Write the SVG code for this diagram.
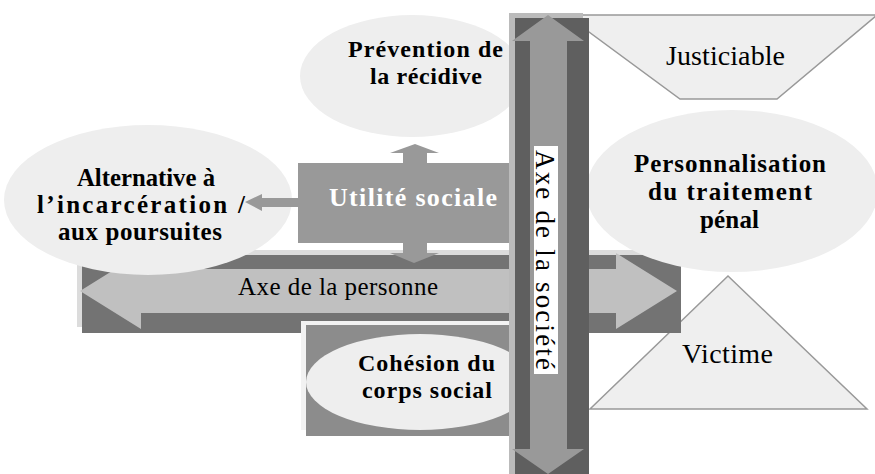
<svg xmlns="http://www.w3.org/2000/svg" width="875" height="474" viewBox="0 0 875 474">
<style>
.lbl{font-family:"Liberation Serif","Times New Roman",serif;font-weight:bold;font-size:25px;fill:#000}
.lbs{font-family:"Liberation Serif","Times New Roman",serif;font-weight:bold;font-size:24px;fill:#000}
.reg{font-family:"Liberation Serif","Times New Roman",serif;font-size:28px;fill:#000}
.ell{fill:#eeeeee}
.shape{fill:#efefef;stroke:#999999;stroke-width:1.5}
</style>
<rect width="875" height="474" fill="#ffffff"/>
<g id="victime">
<polygon class="shape" points="728,276 867,409 590,409"/>
<text class="reg" x="682" y="363" textLength="91" lengthAdjust="spacing">Victime</text>
</g>
<g id="justiciable">
<polygon class="shape" points="566,15 877,15 777,99 680,99"/>
<text class="reg" x="666" y="65" textLength="119" lengthAdjust="spacing">Justiciable</text>
</g>
<g id="axe-personne">
<rect x="77" y="250" width="600" height="77" fill="#dcdcdc"/>
<rect x="82" y="255" width="599" height="78" fill="#737373"/>
<polygon points="80,291 141,253 141,269 616,269 616,253 677,291 616,329 616,313 141,313 141,329" fill="#c0c0c0"/>
<text x="238" y="295" textLength="200" lengthAdjust="spacing" style="font-family:'Liberation Serif','Times New Roman',serif;font-size:25px;fill:#000">Axe de la personne</text>
</g>
<g id="alternative">
<ellipse class="ell" cx="148" cy="200" rx="144" ry="75"/>
<text class="lbl" x="77" y="186" textLength="138" lengthAdjust="spacingAndGlyphs">Alternative à</text>
<text class="lbl" x="37" y="213" textLength="208" lengthAdjust="spacing">l’incarcération /</text>
<text class="lbl" x="58" y="240" textLength="164" lengthAdjust="spacing">aux poursuites</text>
</g>
<g id="personnalisation">
<ellipse class="ell" cx="732" cy="191" rx="146" ry="81"/>
<text class="lbl" x="634" y="172" textLength="192" lengthAdjust="spacing">Personnalisation</text>
<text class="lbl" x="648" y="200" textLength="164" lengthAdjust="spacing">du traitement</text>
<text class="lbl" x="700" y="228" textLength="59" lengthAdjust="spacing">pénal</text>
</g>
<g id="prevention">
<ellipse class="ell" cx="412" cy="76" rx="112" ry="61"/>
<text class="lbs" x="348" y="57" textLength="155" lengthAdjust="spacing">Prévention de</text>
<text class="lbs" x="370" y="84" textLength="112" lengthAdjust="spacing">la récidive</text>
</g>
<g id="connectors">
<polygon points="245,202 262,194 262,198 300,198 300,207 262,207 262,211" fill="#999999"/>
<polygon points="415,144 439,153 427,153 427,165 403,165 403,153 390,153" fill="#999999"/>
<polygon points="403,241 427,241 427,253 439,253 414,263 390,253 403,253" fill="#999999"/>
</g>
<g id="utilite">
<rect x="298" y="163" width="217" height="80" fill="#999999"/>
<text x="329" y="206" textLength="168" lengthAdjust="spacing" style="font-family:'Liberation Serif','Times New Roman',serif;font-weight:bold;font-size:26px;fill:#ffffff">Utilité sociale</text>
</g>
<g id="cohesion">
<rect x="301" y="321" width="214" height="109" fill="#f2f2f2"/>
<rect x="306" y="325" width="209" height="111" fill="#8c8c8c"/>
<ellipse class="ell" cx="420" cy="382" rx="114" ry="48"/>
<text class="lbs" x="358" y="371" textLength="137" lengthAdjust="spacing">Cohésion du</text>
<text class="lbs" x="362" y="398" textLength="130" lengthAdjust="spacing">corps social</text>
</g>
<g id="axe-societe">
<rect x="509" y="13" width="74" height="461" fill="#bbbbbb"/>
<rect x="515" y="18" width="74" height="456" fill="#5f5f5f"/>
<polygon points="548,15 584,41 567,41 567,449 584,449 548,474 512,449 530,449 530,41 512,41" fill="#999999"/>
<rect x="534" y="146" width="24" height="228" fill="#ffffff"/>
<text transform="translate(536,150) rotate(90)" x="0" y="0" textLength="220" lengthAdjust="spacing" style="font-family:'Liberation Serif','Times New Roman',serif;font-size:27px;fill:#000">Axe de la société</text>
</g>
</svg>
